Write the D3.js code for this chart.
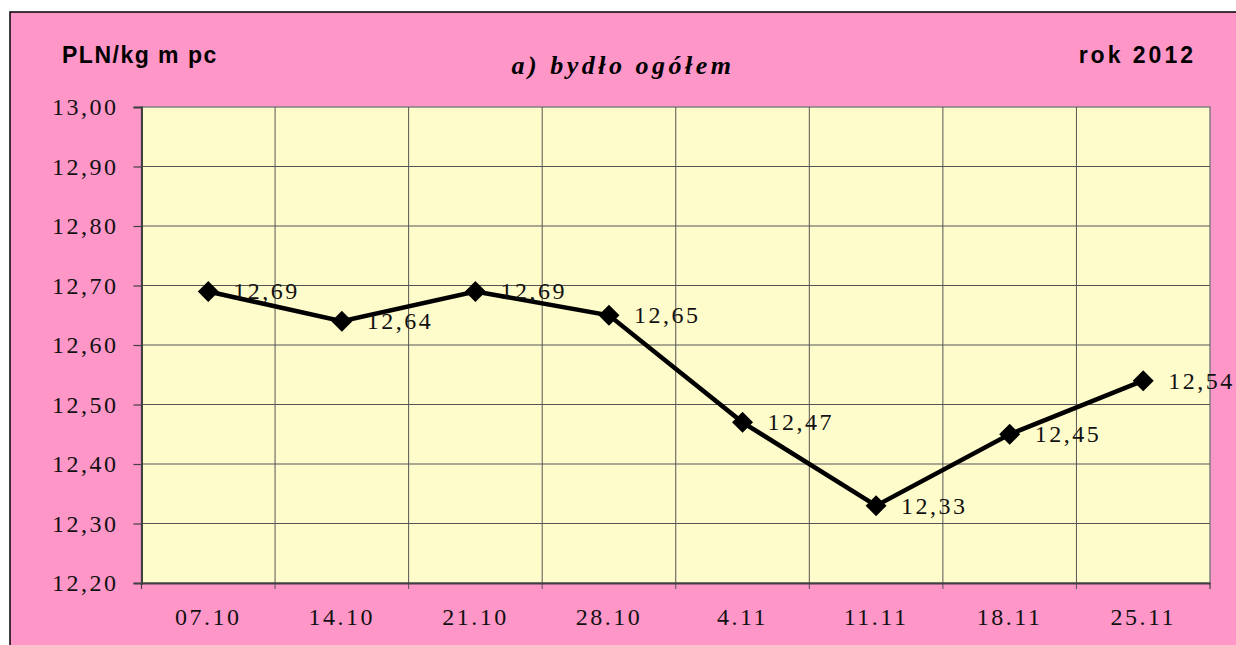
<!DOCTYPE html>
<html>
<head>
<meta charset="utf-8">
<script src="https://cdn.jsdelivr.net/npm/d3@7"></script>
<style>
  html, body { margin: 0; padding: 0; background: #ffffff; }
  svg { display: block; }
</style>
</head>
<body>
<div id="chart"></div>
<script>
// chart values
const categories = ['07.10', '14.10', '21.10', '28.10', '4.11', '11.11', '18.11', '25.11'];
const prices = [12.69, 12.64, 12.69, 12.65, 12.47, 12.33, 12.45, 12.54];
const yTicks = [12.2, 12.3, 12.4, 12.5, 12.6, 12.7, 12.8, 12.9, 13.0];

const W = 1236, H = 645;
const plot = { left: 141.5, top: 107, right: 1210, bottom: 583 };
const serif = '"Liberation Serif", "Times New Roman", serif';
const sans = '"Liberation Sans", Arial, sans-serif';

const fmt = v => v.toFixed(2).replace('.', ',');

const svg = d3.select('#chart').append('svg')
    .attr('width', W)
    .attr('height', H);

// chart area background + outer border (left & top visible)
svg.append('rect')
    .attr('x', 10).attr('y', 12)
    .attr('width', W + 10).attr('height', H + 10)
    .attr('fill', '#ff96c8')
    .attr('stroke', '#000').attr('stroke-width', 1.5);

// plot area
svg.append('rect')
    .attr('x', plot.left).attr('y', plot.top)
    .attr('width', plot.right - plot.left).attr('height', plot.bottom - plot.top)
    .attr('fill', '#fffccc')
    .attr('stroke', '#808080').attr('stroke-width', 1.5);

const x = d3.scaleBand()
    .domain(categories)
    .range([plot.left, plot.right])
    .padding(0);

const y = d3.scaleLinear()
    .domain([12.2, 13.0])
    .range([plot.bottom, plot.top]);

// horizontal gridlines
svg.append('g')
    .selectAll('line')
    .data(yTicks.slice(1, -1))
    .join('line')
    .attr('x1', plot.left).attr('x2', plot.right)
    .attr('y1', d => y(d)).attr('y2', d => y(d))
    .attr('stroke', '#555').attr('stroke-width', 1);

// vertical gridlines at band boundaries
svg.append('g')
    .selectAll('line')
    .data(categories.slice(1))
    .join('line')
    .attr('x1', d => x(d)).attr('x2', d => x(d))
    .attr('y1', plot.top).attr('y2', plot.bottom + 6)
    .attr('stroke', '#555').attr('stroke-width', 1);

// y axis
const yAxis = d3.axisLeft(y)
    .tickValues(yTicks)
    .tickFormat(fmt)
    .tickSize(8)
    .tickPadding(15);

const gy = svg.append('g')
    .attr('transform', `translate(${plot.left},0)`)
    .call(yAxis);
gy.select('.domain').attr('stroke', '#404040').attr('stroke-width', 2);
gy.selectAll('.tick line').attr('stroke', '#404040').attr('stroke-width', 1.2);
gy.selectAll('.tick text')
    .attr('fill', '#111')
    .style('font-family', serif)
    .style('font-size', '24px')
    .style('letter-spacing', '2.5px');

// x axis
const xAxis = d3.axisBottom(x)
    .tickSize(0)
    .tickPadding(25);

const gx = svg.append('g')
    .attr('transform', `translate(0,${plot.bottom})`)
    .call(xAxis);
gx.select('.domain').attr('stroke', '#404040').attr('stroke-width', 2);
gx.selectAll('.tick text')
    .attr('fill', '#111')
    .style('font-family', serif)
    .style('font-size', '24px')
    .style('letter-spacing', '2.5px');

// outer tick marks at band edges
svg.append('g')
    .selectAll('line')
    .data([plot.left, plot.right])
    .join('line')
    .attr('x1', d => d).attr('x2', d => d)
    .attr('y1', plot.bottom).attr('y2', plot.bottom + 6)
    .attr('stroke', '#404040').attr('stroke-width', 1.2);

// series line
const cx = d => x(d) + x.bandwidth() / 2;
const line = d3.line()
    .x((d, i) => cx(categories[i]))
    .y(d => y(d));

svg.append('path')
    .datum(prices)
    .attr('d', line)
    .attr('fill', 'none')
    .attr('stroke', '#000')
    .attr('stroke-width', 4.5)
    .attr('stroke-linejoin', 'miter');

// diamond markers
svg.append('g')
    .selectAll('path')
    .data(prices)
    .join('path')
    .attr('transform', (d, i) => `translate(${cx(categories[i])},${y(d)})`)
    .attr('d', 'M0,-10.5L10.5,0L0,10.5L-10.5,0Z')
    .attr('fill', '#000');

// value labels
svg.append('g')
    .selectAll('text')
    .data(prices)
    .join('text')
    .attr('x', (d, i) => cx(categories[i]) + 25)
    .attr('y', d => y(d) + 8)
    .text(fmt)
    .attr('fill', '#111')
    .style('font-family', serif)
    .style('font-size', '24px')
    .style('letter-spacing', '2.5px');

// titles
svg.append('text')
    .attr('x', 62).attr('y', 63)
    .text('PLN/kg m pc')
    .style('font-family', sans)
    .style('font-weight', 'bold')
    .style('font-size', '23px')
    .style('letter-spacing', '1.5px');

svg.append('text')
    .attr('x', 623).attr('y', 74)
    .attr('text-anchor', 'middle')
    .text('a) bydło ogółem')
    .style('font-family', serif)
    .style('font-weight', 'bold')
    .style('font-style', 'italic')
    .style('font-size', '26px')
    .style('letter-spacing', '3.5px');

svg.append('text')
    .attr('x', 1196).attr('y', 63)
    .attr('text-anchor', 'end')
    .text('rok 2012')
    .style('font-family', sans)
    .style('font-weight', 'bold')
    .style('font-size', '23px')
    .style('letter-spacing', '3px');
</script>
</body>
</html>
